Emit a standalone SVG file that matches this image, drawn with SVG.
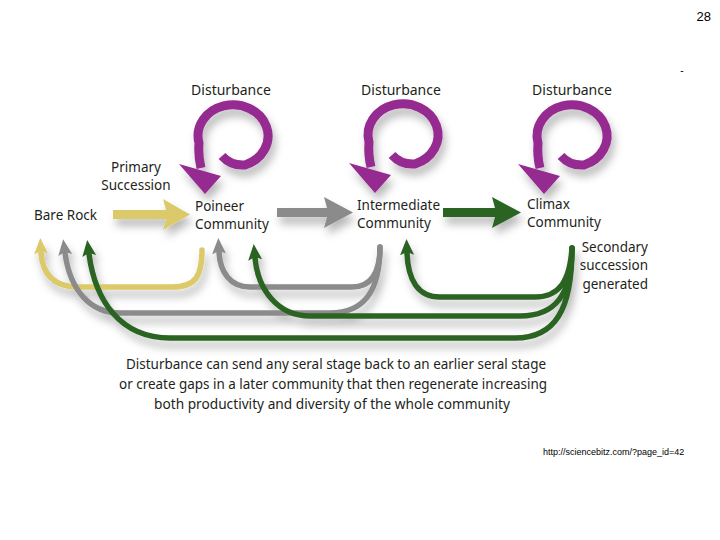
<svg xmlns="http://www.w3.org/2000/svg" xmlns:xlink="http://www.w3.org/1999/xlink" width="720" height="540" viewBox="0 0 720 540">
<style>
.lbl{font-family:"Noto Sans","Liberation Sans",sans-serif;font-size:13.5px;fill:#231f20}
.dist{font-family:"Noto Sans","Liberation Sans",sans-serif;font-size:14px;fill:#231f20;text-anchor:middle}
.cap{font-family:"Noto Sans","Liberation Sans",sans-serif;font-size:14px;fill:#231f20;text-anchor:middle}
.pg{font-family:"Liberation Sans",Arial,sans-serif;fill:#000}
.yl{fill:none;stroke:#dcc96a;stroke-width:5.5;stroke-linecap:round}
.gr{fill:none;stroke:#8b8b8b;stroke-width:5.5;stroke-linecap:round}
.gn{fill:none;stroke:#2b6424;stroke-width:5.5;stroke-linecap:round}
</style>
<defs>
<filter id="sh" x="-30%" y="-30%" width="160%" height="170%">
<feDropShadow dx="3" dy="7" stdDeviation="4" flood-color="#000" flood-opacity="0.28"/>
</filter>
<marker id="mY" viewBox="0 0 16 14" refX="2" refY="7" markerWidth="16" markerHeight="14" markerUnits="userSpaceOnUse" orient="auto"><path d="M0,0 L16,7 L0,14 L3,7 z" fill="#dcc96a"/></marker>
<marker id="mG" viewBox="0 0 16 14" refX="2" refY="7" markerWidth="16" markerHeight="14" markerUnits="userSpaceOnUse" orient="auto"><path d="M0,0 L16,7 L0,14 L3,7 z" fill="#8b8b8b"/></marker>
<marker id="mN" viewBox="0 0 16 14" refX="2" refY="7" markerWidth="16" markerHeight="14" markerUnits="userSpaceOnUse" orient="auto"><path d="M0,0 L16,7 L0,14 L3,7 z" fill="#2b6424"/></marker>
<g id="swirl">
<path d="M222,156 Q231,166 245,165 A35,31 0 1 0 199,143 Q198,156 201,168" fill="none" stroke="#952a91" stroke-width="9"/>
<path d="M179,164 L221,176 L205,194 Z" fill="#952a91"/>
</g>
</defs>
<rect width="720" height="540" fill="#fff"/>

<text class="pg" x="711" y="21" font-size="13" text-anchor="end">28</text>
<text class="pg" x="682" y="74" font-size="10" text-anchor="middle">-</text>
<text class="pg" x="543" y="455" font-size="9">http://sciencebitz.com/?page_id=42</text>

<g id="disturbance1">
<text class="dist" x="231" y="95">Disturbance</text>
<use xlink:href="#swirl" filter="url(#sh)"/>
</g>
<g id="disturbance2">
<text class="dist" x="401" y="95">Disturbance</text>
<use xlink:href="#swirl" transform="translate(170,-1)" filter="url(#sh)"/>
</g>
<g id="disturbance3">
<text class="dist" x="572" y="95">Disturbance</text>
<use xlink:href="#swirl" transform="translate(339,0)" filter="url(#sh)"/>
</g>

<g id="bare-rock"><text class="lbl" x="34" y="220">Bare Rock</text></g>
<g id="primary-succession">
<text class="lbl" x="136" y="172" text-anchor="middle">Primary</text>
<text class="lbl" x="136" y="190" text-anchor="middle">Succession</text>
</g>
<g id="pioneer"><text class="lbl" x="195" y="211">Poineer</text><text class="lbl" x="195" y="229">Community</text></g>
<g id="intermediate"><text class="lbl" x="357" y="210">Intermediate</text><text class="lbl" x="357" y="228">Community</text></g>
<g id="climax"><text class="lbl" x="527" y="209">Climax</text><text class="lbl" x="527" y="227">Community</text></g>
<g id="secondary">
<text class="lbl" x="648" y="252" text-anchor="end">Secondary</text>
<text class="lbl" x="648" y="270" text-anchor="end">succession</text>
<text class="lbl" x="648" y="289" text-anchor="end">generated</text>
</g>

<g id="connectors" filter="url(#sh)">
<path d="M113,210 H166 L163,199 L190,214.5 L163,230 L166,219 H113 Z" fill="#dcc96a"/>
<path d="M277,208 H327 L324,197 L353,212.5 L324,228 L327,217 H277 Z" fill="#8b8b8b"/>
<path d="M443,208 H495 L492,197 L521,212.5 L492,228 L495,217 H443 Z" fill="#2b6424"/>
<path class="yl" d="M202,250 C202,276 196,287 172,287 L78,287 C52,287 42,272 41,252" marker-end="url(#mY)"/>
<path class="gr" d="M380,247 C380,290 365,313 330,313 L120,313 C90,313 70,290 65,253" marker-end="url(#mG)"/>
<path class="gr" d="M380,247 C380,272 372,287 352,287 L250,287 C230,287 220,272 219,252" marker-end="url(#mG)"/>
<path class="gn" d="M572,248 C570,280 560,297 535,297 L440,297 C418,297 408,280 407,253" marker-end="url(#mN)"/>
<path class="gn" d="M572,248 C572,295 555,316 520,316 L310,316 C278,316 258,290 255,258" marker-end="url(#mN)"/>
<path class="gn" d="M572,248 C572,310 555,338 515,338 L170,338 C120,338 95,300 89,254" marker-end="url(#mN)"/>
</g>

<g id="caption">
<text class="cap" x="336" y="369" textLength="420" lengthAdjust="spacingAndGlyphs">Disturbance can send any seral stage back to an earlier seral stage</text>
<text class="cap" x="333" y="389" textLength="428" lengthAdjust="spacingAndGlyphs">or create gaps in a later community that then regenerate increasing</text>
<text class="cap" x="332" y="409" textLength="356" lengthAdjust="spacingAndGlyphs">both productivity and diversity of the whole community</text>
</g>
</svg>
